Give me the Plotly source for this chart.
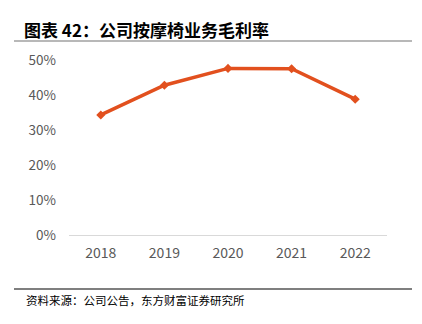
import plotly.graph_objects as go

years = ["2018", "2019", "2020", "2021", "2022"]
margin = [0.343, 0.428, 0.476, 0.475, 0.388]
yticks = [0, 0.1, 0.2, 0.3, 0.4, 0.5]
ytick_labels = ["0%", "10%", "20%", "30%", "40%", "50%"]

title_text = "图表 42：公司按摩椅业务毛利率"
source_text = "资料来源：公司公告，东方财富证券研究所"

fig = go.Figure()
fig.add_trace(go.Scatter(
    x=years, y=margin, mode="lines+markers",
    line=dict(color="#E2501E", width=3.5),
    marker=dict(symbol="diamond", size=7, color="#E2501E"),
    showlegend=False, cliponaxis=False,
))

fig.update_layout(
    width=422, height=324,
    margin=dict(l=69, r=35, t=60, b=89),
    paper_bgcolor="white", plot_bgcolor="white",
    font=dict(family="Noto Sans CJK SC, sans-serif", color="#595959", size=13),
    xaxis=dict(type="category", showline=True, linecolor="#d9d9d9", linewidth=1,
               showgrid=False, ticks="", tickfont=dict(size=14, color="#595959"),
               ticklabelstandoff=5, range=[-0.5, 4.5]),
    yaxis=dict(range=[0, 0.5], tickvals=yticks, ticktext=ytick_labels,
               showgrid=False, zeroline=False, showline=False, ticks="",
               ticklabelstandoff=12, tickfont=dict(size=13.5, color="#595959")),
    shapes=[
        dict(type="line", xref="paper", yref="paper", x0=-55/318, x1=343/318,
             y0=(324-41-89)/175, y1=(324-41-89)/175,
             line=dict(color="#a0a0a0", width=1.5)),
        dict(type="line", xref="paper", yref="paper", x0=-55/318, x1=343/318,
             y0=(324-289-89)/175, y1=(324-289-89)/175,
             line=dict(color="#000000", width=1.2)),
    ],
    annotations=[
        dict(text="<b>" + title_text + "</b>", xref="paper", yref="paper",
             x=-47/318, y=(324-30-89)/175, xanchor="left", yanchor="middle",
             showarrow=False, font=dict(size=17, color="#000000",
                                        family="Noto Sans CJK SC")),
        dict(text=source_text, xref="paper", yref="paper",
             x=-45/318, y=(324-300-89)/175, xanchor="left", yanchor="middle",
             showarrow=False, font=dict(size=11.5, color="#000000",
                                        family="Noto Sans CJK SC")),
    ],
)

fig.write_html("out.html")
